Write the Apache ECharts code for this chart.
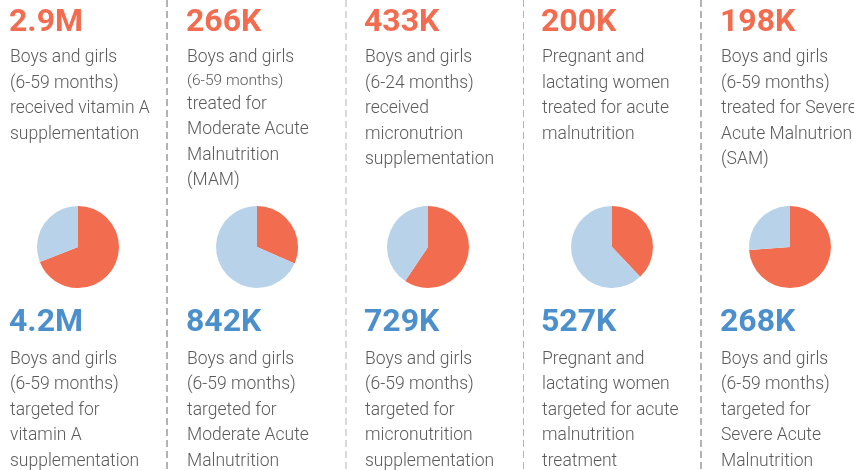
<!DOCTYPE html>
<html>
<head>
<meta charset="utf-8">
<script src="https://cdn.jsdelivr.net/npm/echarts/dist/echarts.min.js"></script>
<style>
html,body{margin:0;padding:0;background:#fff;}
#main{width:854px;height:470px;}
</style>
</head>
<body>
<div id="main"></div>
<script>
// reached vs targeted, one column per programme
var reachedLabels = ['2.9M', '266K', '433K', '200K', '198K'];
var reachedValues = [2900000, 266000, 433000, 200000, 198000];
var targetLabels = ['4.2M', '842K', '729K', '527K', '268K'];
var targetValues = [4200000, 842000, 729000, 527000, 268000];
var reachedTexts = [
    'Boys and girls\n(6-59 months)\nreceived vitamin A\nsupplementation',
    'Boys and girls\n{s|(6-59 months)}\ntreated for\nModerate Acute\nMalnutrition\n(MAM)',
    'Boys and girls\n(6-24 months)\nreceived\nmicronutrion\nsupplementation',
    'Pregnant and\nlactating women\ntreated for acute\nmalnutrition',
    'Boys and girls\n(6-59 months)\ntreated for Severe\nAcute Malnutrion\n(SAM)'
];
var targetTexts = [
    'Boys and girls\n(6-59 months)\ntargeted for\nvitamin A\nsupplementation',
    'Boys and girls\n(6-59 months)\ntargeted for\nModerate Acute\nMalnutrition',
    'Boys and girls\n(6-59 months)\ntargeted for\nmicronutrition\nsupplementation',
    'Pregnant and\nlactating women\ntargeted for acute\nmalnutrition\ntreatment',
    'Boys and girls\n(6-59 months)\ntargeted for\nSevere Acute\nMalnutrition'
];

var colX = [10, 187, 365, 542, 721];
var pieX = [78, 257, 428, 612, 790];
var sepX = [167, 346, 523.5, 701];
var sepW = [2, 1, 1, 2];
var red = '#f26c50', blue = '#4b8fcd', lightBlue = '#b8d2ea', grey = '#5a5a5a';
var fontFam = 'Roboto, "Noto Sans", sans-serif';

var chart = echarts.init(document.getElementById('main'), null, {renderer: 'canvas'});
var series = [], graphic = [];

for (var i = 0; i < sepX.length; i++) {
    graphic.push({
        type: 'line', silent: true,
        shape: {x1: sepX[i], y1: 0, x2: sepX[i], y2: 470},
        style: {stroke: '#b3b3b3', lineWidth: sepW[i], lineDash: [7, 4]}
    });
}

for (var i = 0; i < reachedValues.length; i++) {
    series.push({
        type: 'pie',
        silent: true,
        animation: false,
        center: [pieX[i], 247],
        radius: 41,
        startAngle: 90,
        clockwise: true,
        label: {show: false},
        labelLine: {show: false},
        data: [
            {value: reachedValues[i], itemStyle: {color: red}},
            {value: targetValues[i] - reachedValues[i], itemStyle: {color: lightBlue}}
        ]
    });
    graphic.push({
        type: 'text', silent: true,
        style: {x: colX[i] - 1, y: 22.5, text: reachedLabels[i], fill: red,
            font: 'bold 32px ' + fontFam, verticalAlign: 'middle'}
    });
    graphic.push({
        type: 'text', silent: true,
        style: {x: colX[i] - 1, y: 323, text: targetLabels[i], fill: blue,
            font: 'bold 32px ' + fontFam, verticalAlign: 'middle'}
    });
    graphic.push({
        type: 'text', silent: true,
        style: {x: colX[i], y: 45, text: reachedTexts[i], fill: grey,
            fontFamily: fontFam, fontWeight: 300, fontSize: 17.5, lineHeight: 25.5,
            verticalAlign: 'top',
            rich: {s: {fontFamily: fontFam, fontWeight: 300, fontSize: 15.5, lineHeight: 21, fill: grey}}}
    });
    graphic.push({
        type: 'text', silent: true,
        style: {x: colX[i], y: 346.5, text: targetTexts[i], fill: grey,
            fontFamily: fontFam, fontWeight: 300, fontSize: 17.5, lineHeight: 25.5,
            verticalAlign: 'top'}
    });
}

var option = {
    backgroundColor: '#fff',
    animation: false,
    series: series,
    graphic: graphic
};
chart.setOption(option);
</script>
</body>
</html>
